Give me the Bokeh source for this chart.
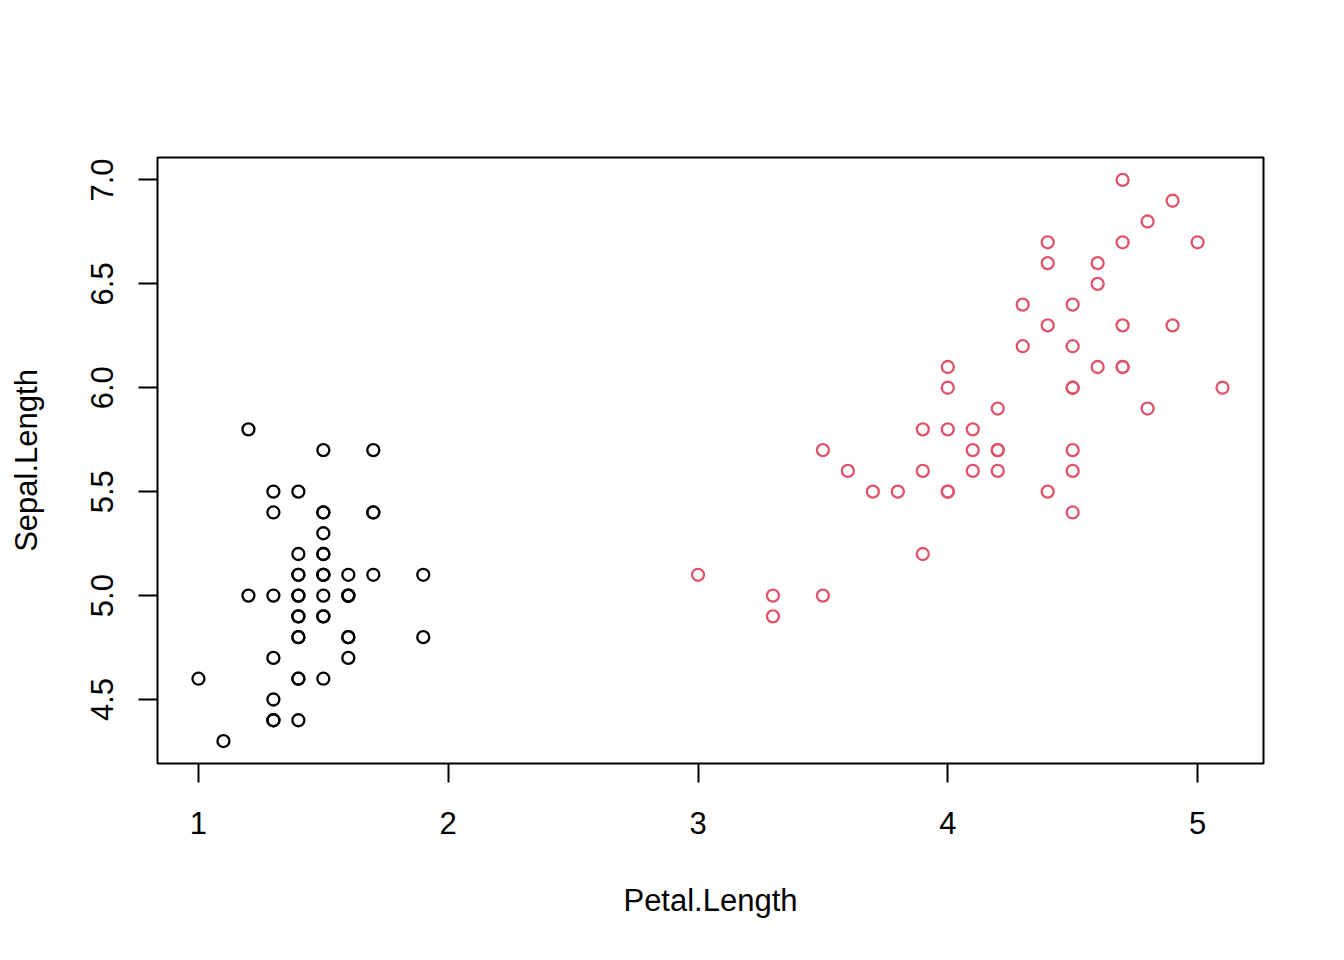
from bokeh.plotting import figure
from bokeh.embed import file_html
from bokeh.resources import INLINE
from bokeh.models import Range1d, FixedTicker

# Iris: setosa and versicolor
setosa_petal = [1.4,1.4,1.3,1.5,1.4,1.7,1.4,1.5,1.4,1.5,1.5,1.6,1.4,1.1,1.2,1.5,1.3,1.4,1.7,1.5,
                1.7,1.5,1.0,1.7,1.9,1.6,1.6,1.5,1.4,1.6,1.6,1.5,1.5,1.4,1.5,1.2,1.3,1.4,1.3,1.5,
                1.3,1.3,1.3,1.6,1.9,1.4,1.6,1.4,1.5,1.4]
setosa_sepal = [5.1,4.9,4.7,4.6,5.0,5.4,4.6,5.0,4.4,4.9,5.4,4.8,4.8,4.3,5.8,5.7,5.4,5.1,5.7,5.1,
                5.4,5.1,4.6,5.1,4.8,5.0,5.0,5.2,5.2,4.7,4.8,5.4,5.2,5.5,4.9,5.0,5.5,4.9,4.4,5.1,
                5.0,4.5,4.4,5.0,5.1,4.8,5.1,4.6,5.3,5.0]
versi_petal = [4.7,4.5,4.9,4.0,4.6,4.5,4.7,3.3,4.6,3.9,3.5,4.2,4.0,4.7,3.6,4.4,4.5,4.1,4.5,3.9,
               4.8,4.0,4.9,4.7,4.3,4.4,4.8,5.0,4.5,3.5,3.8,3.7,3.9,5.1,4.5,4.5,4.7,4.4,4.1,4.0,
               4.4,4.6,4.0,3.3,4.2,4.2,4.2,4.3,3.0,4.1]
versi_sepal = [7.0,6.4,6.9,5.5,6.5,5.7,6.3,4.9,6.6,5.2,5.0,5.9,6.0,6.1,5.6,6.7,5.6,5.8,6.2,5.6,
               5.9,6.1,6.3,6.1,6.4,6.6,6.8,6.7,6.0,5.7,5.5,5.5,5.8,6.0,5.4,6.0,6.7,6.3,5.6,5.5,
               5.5,6.1,5.8,5.0,5.6,5.7,5.7,6.2,5.1,5.7]
x_ticks = [1, 2, 3, 4, 5]
y_ticks = [4.5, 5.0, 5.5, 6.0, 6.5, 7.0]

FONT = "Liberation Sans"

p = figure(output_backend="svg", toolbar_location=None,
           frame_width=1106, frame_height=606,
           min_border_left=157, min_border_right=73,
           min_border_top=157, min_border_bottom=189,
           x_range=Range1d(0.836, 5.264), y_range=Range1d(4.192, 7.108))
p.background_fill_color = "white"
p.border_fill_color = "white"
p.xgrid.visible = False
p.ygrid.visible = False
p.outline_line_color = "black"
p.outline_line_width = 2

p.scatter(setosa_petal, setosa_sepal, marker="circle", size=12, fill_color=None,
          line_color="black", line_width=2.3)
p.scatter(versi_petal, versi_sepal, marker="circle", size=12, fill_color=None,
          line_color="#DF536B", line_width=2.3)

for ax in (p.xaxis[0], p.yaxis[0]):
    ax.axis_line_color = None
    ax.major_tick_in = 0
    ax.major_tick_out = 19
    ax.major_tick_line_width = 2
    ax.major_tick_line_color = "black"
    ax.minor_tick_line_color = None
    ax.major_label_text_font = FONT
    ax.major_label_text_font_size = "31px"
    ax.major_label_text_color = "black"
    ax.axis_label_text_font = FONT
    ax.axis_label_text_font_size = "31px"
    ax.axis_label_text_font_style = "normal"
    ax.axis_label_text_color = "black"

p.xaxis[0].ticker = FixedTicker(ticks=x_ticks)
p.yaxis[0].ticker = FixedTicker(ticks=y_ticks)
p.xaxis[0].major_label_overrides = {t: str(t) for t in x_ticks}
p.yaxis[0].major_label_overrides = {t: f"{t:.1f}" for t in y_ticks}
p.yaxis[0].major_label_orientation = "vertical"
p.xaxis[0].axis_label = "Petal.Length"
p.yaxis[0].axis_label = "Sepal.Length"
p.xaxis[0].major_label_standoff = 29
p.yaxis[0].major_label_standoff = 25
p.xaxis[0].axis_label_standoff = 46
p.yaxis[0].axis_label_standoff = 45

open("out.html", "w").write(file_html(p, INLINE))
